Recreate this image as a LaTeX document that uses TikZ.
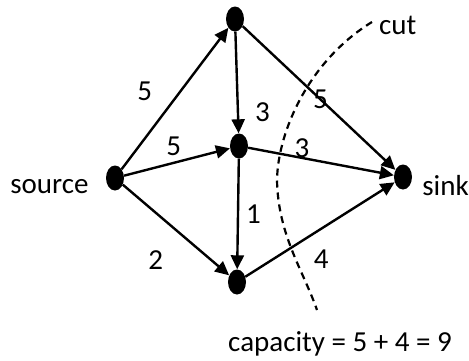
\documentclass[tikz,border=0pt]{standalone}
\usepackage{fontspec}
\setmainfont{Carlito}
\usepackage{tikz}
\usetikzlibrary{shapes.geometric, arrows.meta, positioning}

\begin{document}
\begin{tikzpicture}[x=1pt, y=-1pt, font=\fontsize{29}{33}\selectfont,
      vtx/.style={ellipse, fill=black, minimum width=18pt, minimum height=25pt, inner sep=0pt},
      arrow/.style={line width=2.4pt, ->, >={Triangle[length=14pt, width=13pt]}},
      lbl/.style={inner sep=1pt},
      txt/.style={inner sep=1pt},
      cutline/.style={line width=2.2pt, dash pattern=on 7pt off 5pt}]
      \useasboundingbox (0,0) rectangle (469,360);

      \node[vtx] (src) at (115,178) {};
      \node[vtx] (top) at (235,19) {};
      \node[vtx] (mid) at (239,146) {};
      \node[vtx] (bot) at (237,282) {};
      \node[vtx] (snk) at (403,177) {};

      \node[txt, left=16pt of src, yshift=-9pt] (srclbl) {source};
      \node[txt, right=9pt of snk, yshift=-9pt] (snklbl) {sink};

      \draw[arrow] (src) -- node[lbl, pos=.55, left=26pt] (w1) {5} (top);
      \draw[arrow] (src) -- node[lbl, pos=.47, above=5pt] (w2) {5} (mid);
      \draw[arrow] (src) -- node[lbl, pos=.53, below left=16pt and 14pt] (w3) {2} (bot);
      \draw[arrow] (top) -- node[lbl, pos=.79, right=15pt] (w4) {3} (mid);
      \draw[arrow] (mid) -- node[lbl, pos=.5, right=6pt] (w5) {1} (bot);
      \draw[arrow] (top) -- node[lbl, pos=.51] (w6) {5} (snk);
      \draw[arrow] (mid) -- node[lbl, pos=.37, above=-2pt] (w7) {3} (snk);
      \draw[arrow] (bot) -- node[lbl, pos=.41, below right=10pt and 5pt] (w8) {4} (snk);

      % the cut
      \coordinate (cuttop) at (372,22);
      \coordinate (cutbot) at (317,310);
      \draw[cutline] (cuttop) .. controls (310,60) and (278,130) .. (277,180)
        .. controls (278,235) and (303,270) .. (cutbot);
      \node[txt, right=6pt of cuttop, yshift=-3pt] (cutlbl) {cut};
      \node[txt] (cap) at (340,344) {capacity = 5 + 4 = 9};
\end{tikzpicture}
\end{document}
